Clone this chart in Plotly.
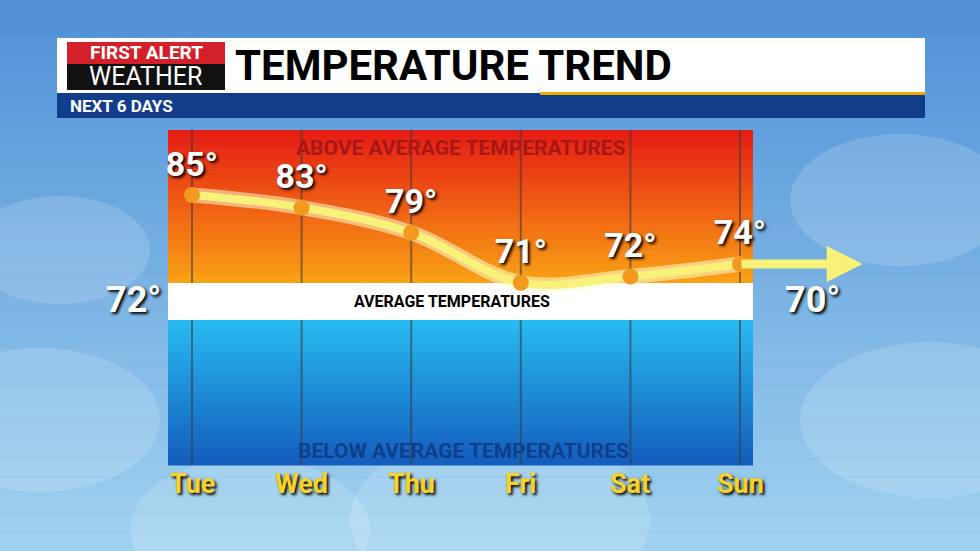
import plotly.graph_objects as go

days = ["Tue", "Wed", "Thu", "Fri", "Sat", "Sun"]
temps = [85, 83, 79, 71, 72, 74]
avg_left = "72°"
avg_right = "70°"

W, H = 980, 551
x_idx = list(range(len(days)))
px_per = 109.6
x0px = 192
xr = [-x0px / px_per, (W - x0px) / px_per]
ppd = 6.27
yr = [85 - (H - 195) / ppd, 85 + 195 / ppd]

def px(x):
    return x / W
def py(y):
    return 1 - y / H

shapes = []
n = 30
for i in range(n):
    t = i / (n - 1)
    r = int(80 + 80 * t); g = int(145 + 65 * t); b = int(215 + 25 * t)
    shapes.append(dict(type="rect", xref="paper", yref="paper", x0=0, x1=1,
                       y0=1 - (i + 1) / n, y1=1 - i / n, fillcolor=f"rgb({r},{g},{b})", line_width=0, layer="below"))
for cx, cy, rr in [(60, 250, 90), (40, 420, 120), (900, 200, 110), (930, 420, 130), (500, 520, 150), (250, 530, 120)]:
    shapes.append(dict(type="circle", xref="paper", yref="paper", x0=px(cx - rr), x1=px(cx + rr),
                       y0=py(cy + rr * 0.6), y1=py(cy - rr * 0.6), fillcolor="rgba(255,255,255,0.15)", line_width=0, layer="below"))
m = 24
top, mid = 130, 283
for i in range(m):
    t = i / (m - 1)
    r = 230 + int(20 * t); g = int(30 + 130 * t); b = 20
    y0 = top + (mid - top) * i / m; y1 = top + (mid - top) * (i + 1) / m
    shapes.append(dict(type="rect", xref="paper", yref="paper", x0=px(168), x1=px(753), y0=py(y1 + 0.5), y1=py(y0),
                       fillcolor=f"rgb({r},{g},{b})", line_width=0, layer="below"))
shapes.append(dict(type="rect", xref="paper", yref="paper", x0=px(168), x1=px(753), y0=py(320), y1=py(283),
                   fillcolor="white", line_width=0, layer="below"))
for i in range(m):
    t = i / (m - 1)
    r = int(40 - 20 * t); g = int(185 - 90 * t); b = int(240 - 50 * t)
    y0 = 320 + (465 - 320) * i / m; y1 = 320 + (465 - 320) * (i + 1) / m
    shapes.append(dict(type="rect", xref="paper", yref="paper", x0=px(168), x1=px(753), y0=py(y1 + 0.5), y1=py(y0),
                       fillcolor=f"rgb({r},{g},{b})", line_width=0, layer="below"))
for i in x_idx:
    for (a, b_) in [(130, 283), (320, 465)]:
        shapes.append(dict(type="line", xref="x", yref="paper", x0=i, x1=i, y0=py(b_), y1=py(a),
                           line=dict(color="rgba(60,60,60,0.6)", width=2), layer="below"))
shapes += [
    dict(type="rect", xref="paper", yref="paper", x0=px(57), x1=px(925), y0=py(93), y1=py(38), fillcolor="white", line_width=0),
    dict(type="rect", xref="paper", yref="paper", x0=px(57), x1=px(925), y0=py(118), y1=py(93), fillcolor="#123d8a", line_width=0),
    dict(type="rect", xref="paper", yref="paper", x0=px(540), x1=px(925), y0=py(95), y1=py(92), fillcolor="#f2a900", line_width=0),
    dict(type="rect", xref="paper", yref="paper", x0=px(67), x1=px(225), y0=py(64), y1=py(42), fillcolor="#d3202a", line_width=0),
    dict(type="rect", xref="paper", yref="paper", x0=px(67), x1=px(225), y0=py(90), y1=py(64), fillcolor="#111", line_width=0),
]

fig = go.Figure()
fig.add_trace(go.Scatter(x=x_idx, y=temps, mode="lines", line=dict(shape="spline", color="rgba(255,255,210,0.55)", width=15), hoverinfo="skip"))
fig.add_trace(go.Scatter(x=x_idx, y=temps, mode="lines", line=dict(shape="spline", color="#f8f27a", width=8), hoverinfo="skip"))
fig.add_trace(go.Scatter(x=x_idx, y=temps, mode="markers+text", marker=dict(color="#f39a1e", size=16),
                         text=[f"{t}°" for t in temps], textposition="top center",
                         textfont=dict(family="Roboto", size=34, color="white", weight="bold", shadow="2px 2px 3px black"),
                         hoverinfo="skip"))

def A(x, y, text, font, xanchor="center", xref="paper"):
    return dict(x=x, y=y, xref=xref, yref="paper", text=text, showarrow=False,
                xanchor=xanchor, yanchor="middle", font=font)

ann = [
    dict(x=6.12, y=temps[-1], ax=x_idx[-1], ay=temps[-1], xref="x", yref="y", axref="x", ayref="y", text="",
         showarrow=True, arrowhead=2, arrowsize=0.8, arrowwidth=9, arrowcolor="#f8f27a"),
    A(px(133), py(300), avg_left, dict(family="Roboto", size=36, color="white", weight="bold", shadow="2px 2px 3px black")),
    A(px(812), py(300), avg_right, dict(family="Roboto", size=36, color="white", weight="bold", shadow="2px 2px 3px black")),
    A(px(460), py(148), "ABOVE AVERAGE TEMPERATURES", dict(family="Roboto", size=21, color="#a81616", weight="bold")),
    A(px(452), py(301), "AVERAGE TEMPERATURES", dict(family="Roboto", size=16, color="black", weight="bold")),
    A(px(463), py(451), "BELOW AVERAGE TEMPERATURES", dict(family="Roboto", size=21, color="#0d3f8a", weight="bold")),
    A(px(146), py(53), "FIRST ALERT", dict(family="Roboto", size=19, color="white", weight="bold")),
    A(px(146), py(77), "WEATHER", dict(family="Roboto", size=25, color="white")),
    A(px(233), py(66), "TEMPERATURE TREND", dict(family="Roboto", size=42, color="black", weight="bold"), xanchor="left"),
    A(px(68), py(106), "NEXT 6 DAYS", dict(family="Roboto", size=17, color="white", weight="bold"), xanchor="left"),
]
for i, d in zip(x_idx, days):
    ann.append(A(i, py(484), d, dict(family="Roboto", size=27, color="#f7d229", weight="bold", shadow="2px 2px 3px black"), xref="x"))

fig.update_layout(width=W, height=H, margin=dict(l=0, r=0, t=0, b=0), showlegend=False,
                  paper_bgcolor="#6fa3d9", plot_bgcolor="rgba(0,0,0,0)",
                  xaxis=dict(range=xr, visible=False, fixedrange=True),
                  yaxis=dict(range=yr, visible=False, fixedrange=True),
                  shapes=shapes, annotations=ann)
fig.write_html("out.html", config={"displayModeBar": False})
with open("out.html") as f:
    html = f.read()
html = html.replace("<head>", "<head><style>body{margin:0;overflow:hidden}</style>", 1)
with open("out.html", "w") as f:
    f.write(html)
